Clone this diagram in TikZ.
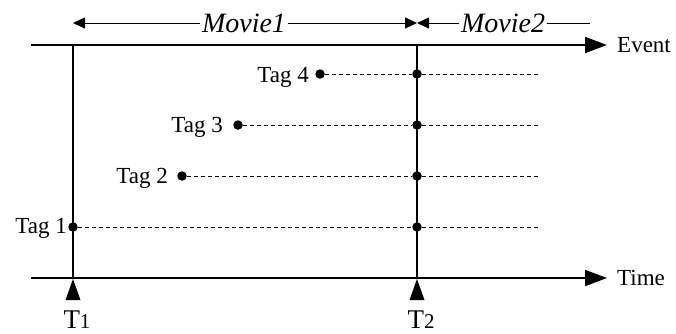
\documentclass[tikz,border=0pt]{standalone}
\usepackage{fontspec}
\setmainfont{Liberation Serif}
\usetikzlibrary{arrows.meta}
\begin{document}
\begin{tikzpicture}[x=1pt,y=-1pt,
  lbl/.style={inner sep=0pt, font=\fontsize{23}{27}\selectfont},
  movielbl/.style={inner sep=1.5pt, font=\fontsize{28}{32}\selectfont\itshape},
  axisline/.style={line width=1.8pt, -{Triangle[length=22pt,width=16pt]}},
  markline/.style={line width=1.8pt},
  spanline/.style={line width=1pt, -{Triangle[length=12pt,width=11pt]}},
  tagline/.style={line width=0.8pt, dash pattern=on 4pt off 3pt},
  dot/.style={circle, fill, inner sep=0pt, minimum size=9.5pt},
  tick/.style={fill}]
\useasboundingbox (0,0) rectangle (676,333);

% axes
\coordinate (E0) at (31,45);
\coordinate (E1) at (607,45);
\coordinate (S0) at (31,278);
\coordinate (S1) at (607,278);
\draw[axisline] (E0) -- (E1);
\draw[axisline] (S0) -- (S1);
\node[lbl, anchor=base west] (event) at (617,52) {Event};
\node[lbl, anchor=base west] (time) at (617,285) {Time};

% the two cut instants
\coordinate (A0) at (73,45);
\coordinate (A1) at (73,278);
\coordinate (B0) at (417,45);
\coordinate (B1) at (417,278);
\draw[markline] (A0) -- (A1);
\draw[markline] (B0) -- (B1);
\fill[tick] (73,279) -- (65.5,300) -- (80.5,300) -- cycle;
\fill[tick] (417,279) -- (409.5,300) -- (424.5,300) -- cycle;
\node[inner sep=0pt, anchor=base] (t1) at (77,328)
  {\fontsize{27}{30}\selectfont T\fontsize{21}{24}\selectfont 1};
\node[inner sep=0pt, anchor=base] (t2) at (421,328)
  {\fontsize{27}{30}\selectfont T\fontsize{21}{24}\selectfont 2};

% movie spans
\coordinate (mL) at (73,23);
\coordinate (mM) at (417,23);
\coordinate (mR) at (590,23);
\node[movielbl, anchor=base] (m1) at (244,32) {Movie1};
\node[movielbl, anchor=base] (m2) at (503,32) {Movie2};
\draw[spanline] (m1.west |- mL) -- (mL);
\draw[spanline] (m1.east |- mM) -- (mM);
\draw[spanline] (m2.west |- mM) -- (mM);
\draw[line width=1pt] (m2.east |- mR) -- (mR);

% tags
\node[dot] (d4) at (320,74) {};
\node[dot] (d3) at (238,125) {};
\node[dot] (d2) at (182,176) {};
\node[dot] (d1) at (73,227) {};
\node[dot] (e4) at (417,74) {};
\node[dot] (e3) at (417,125) {};
\node[dot] (e2) at (417,176) {};
\node[dot] (e1) at (417,227) {};
\coordinate (f4) at (540,74);
\coordinate (f3) at (540,125);
\coordinate (f2) at (540,176);
\coordinate (f1) at (540,227);
\draw[tagline] (d4) -- (e4) -- (f4);
\draw[tagline] (d3) -- (e3) -- (f3);
\draw[tagline] (d2) -- (e2) -- (f2);
\draw[tagline] (d1) -- (e1) -- (f1);
\node[lbl, anchor=base east] (tag4) at (309,82) {Tag 4};
\node[lbl, anchor=base east] (tag3) at (223,132) {Tag 3};
\node[lbl, anchor=base east] (tag2) at (168,183) {Tag 2};
\node[lbl, anchor=base east] (tag1) at (67,233) {Tag 1};
\end{tikzpicture}
\end{document}
